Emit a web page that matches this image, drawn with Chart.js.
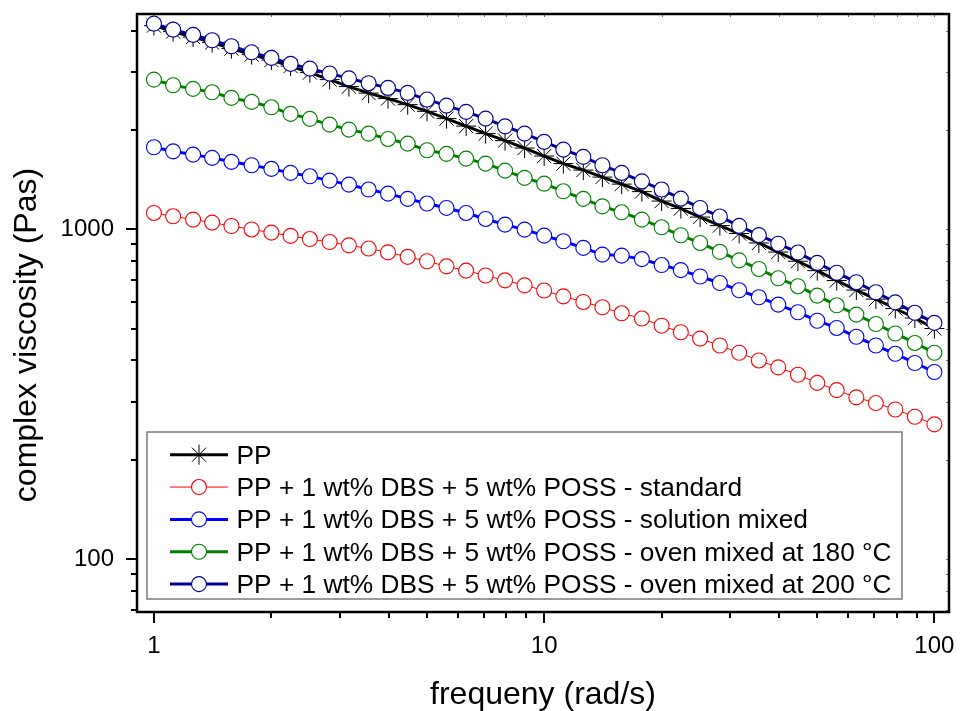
<!DOCTYPE html>
<html>
<head>
<meta charset="utf-8">
<script src="https://cdn.jsdelivr.net/npm/chart.js@4.4.0/dist/chart.umd.min.js"></script>
<style>
html,body{margin:0;padding:0;background:#ffffff;}
#wrap{width:960px;height:711px;position:relative;}
</style>
</head>
<body>
<div id="wrap"><canvas id="c" width="960" height="711"></canvas></div>
<script>
// ---- data ----
const frequency = [1, 1.12, 1.26, 1.41, 1.58, 1.78, 2, 2.24, 2.51, 2.82, 3.16, 3.55, 3.98, 4.47, 5.01, 5.62, 6.31, 7.08, 7.94, 8.91,
  10, 11.2, 12.6, 14.1, 15.8, 17.8, 20, 22.4, 25.1, 28.2, 31.6, 35.5, 39.8, 44.7, 50.1, 56.2, 63.1, 70.8, 79.4, 89.1, 100];

const ppValues = [4150, 3980, 3830, 3686, 3534, 3388, 3261, 3127, 2988, 2846, 2710, 2589, 2492, 2389, 2280, 2167, 2056, 1951, 1858, 1764,
  1668, 1582, 1512, 1440, 1371, 1301, 1218, 1156, 1089, 1026, 971, 909, 853, 800, 749, 699, 654, 614, 575, 538, 500];

const standardValues = [1121, 1095, 1070, 1048, 1023, 999, 977, 955, 934, 915, 894, 874, 851, 825, 800, 772, 749, 724, 700, 676,
  652, 626, 602, 580, 556, 536, 510, 487, 466, 444, 422, 400, 381, 362, 342, 325, 309, 297, 284, 270, 256];

const solutionValues = [1774, 1724, 1685, 1647, 1602, 1564, 1525, 1483, 1448, 1405, 1366, 1320, 1283, 1237, 1197, 1161, 1121, 1075, 1033, 998,
  957, 920, 878, 838, 832, 812, 779, 752, 719, 687, 653, 622, 591, 560, 528, 502, 472, 444, 419, 393, 369];

const oven180Values = [2846, 2735, 2667, 2604, 2504, 2435, 2345, 2239, 2163, 2078, 2007, 1951, 1880, 1820, 1737, 1694, 1638, 1582, 1507, 1432,
  1376, 1304, 1237, 1174, 1126, 1070, 1014, 959, 909, 854, 805, 758, 710, 672, 629, 588, 551, 516, 483, 452, 422];

const oven200Values = [4207, 4036, 3890, 3745, 3592, 3443, 3311, 3176, 3073, 2968, 2870, 2775, 2686, 2593, 2475, 2373, 2271, 2167, 2053, 1951,
  1842, 1745, 1658, 1564, 1483, 1398, 1320, 1239, 1161, 1093, 1024, 960, 904, 850, 791, 738, 691, 644, 600, 558, 520];

const seriesLabels = [
  'PP',
  'PP + 1 wt% DBS + 5 wt% POSS - standard',
  'PP + 1 wt% DBS + 5 wt% POSS - solution mixed',
  'PP + 1 wt% DBS + 5 wt% POSS - oven mixed at 180 °C',
  'PP + 1 wt% DBS + 5 wt% POSS - oven mixed at 200 °C'
];
const xTickValues = [1, 10, 100];
const yTickValues = [100, 1000];
const xAxisTitle = 'frequeny (rad/s)';
const yAxisTitle = 'complex viscosity (Pas)';

// ---- build ----
const FONT = '"Liberation Sans", Arial, Helvetica, sans-serif';
const toPts = vals => frequency.map((f, i) => ({x: f, y: vals[i]}));

function circleSet(label, vals, color, lw, order) {
  return {
    label, data: toPts(vals),
    borderColor: color, borderWidth: lw, backgroundColor: color,
    pointStyle: 'circle', pointRadius: 7.5, pointHoverRadius: 7.5,
    pointBorderWidth: 1.1, pointBorderColor: color, pointBackgroundColor: '#ffffff',
    tension: 0, order
  };
}

const datasets = [
  {
    label: seriesLabels[0], data: toPts(ppValues),
    borderColor: '#000000', borderWidth: 3, backgroundColor: '#000000',
    pointStyle: 'star', pointRadius: 10, pointHoverRadius: 10,
    pointBorderWidth: 1, pointBorderColor: '#000000', pointBackgroundColor: 'rgba(0,0,0,0)',
    tension: 0, order: 5
  },
  circleSet(seriesLabels[1], standardValues, '#ff0000', 1, 4),
  circleSet(seriesLabels[2], solutionValues, '#0000ff', 3, 3),
  circleSet(seriesLabels[3], oven180Values, '#008000', 3, 2),
  circleSet(seriesLabels[4], oven200Values, '#000096', 3, 1)
];

function minorValues(min, max) {
  const out = [];
  for (let e = Math.floor(Math.log10(min)); e <= Math.ceil(Math.log10(max)); e++) {
    for (let m = 1; m < 10; m++) {
      const v = m * Math.pow(10, e);
      if (v >= min && v <= max) out.push({v, major: m === 1});
    }
  }
  return out;
}

function zeroPad(s) { s.paddingTop = 0; s.paddingBottom = 0; s.paddingLeft = 0; s.paddingRight = 0; }

const framePlugin = {
  id: 'frame',
  afterDraw(chart) {
    const ctx = chart.ctx;
    const a = chart.chartArea;
    const xs = chart.scales.x, ys = chart.scales.y;
    ctx.save();
    // ticks
    ctx.strokeStyle = '#000000';
    ctx.lineWidth = 2;
    minorValues(xs.min, xs.max).forEach(t => {
      const px = Math.round(xs.getPixelForValue(t.v));
      const len = t.major ? 11 : 6;
      ctx.beginPath(); ctx.moveTo(px, a.bottom); ctx.lineTo(px, a.bottom + len); ctx.stroke();
    });
    minorValues(ys.min, ys.max).forEach(t => {
      const py = Math.round(ys.getPixelForValue(t.v));
      const len = t.major ? 11 : 6;
      ctx.beginPath(); ctx.moveTo(a.left, py); ctx.lineTo(a.left - len, py); ctx.stroke();
    });
    // faint mirrored ticks top/right
    ctx.strokeStyle = '#707070';
    ctx.lineWidth = 1;
    minorValues(xs.min, xs.max).forEach(t => {
      const px = Math.round(xs.getPixelForValue(t.v)) + 0.5;
      ctx.beginPath(); ctx.moveTo(px, a.top); ctx.lineTo(px, a.top + 3); ctx.stroke();
    });
    minorValues(ys.min, ys.max).forEach(t => {
      const py = Math.round(ys.getPixelForValue(t.v)) + 0.5;
      ctx.beginPath(); ctx.moveTo(a.right, py); ctx.lineTo(a.right - 3, py); ctx.stroke();
    });
    // frame
    ctx.strokeStyle = '#000000';
    ctx.lineWidth = 2.5;
    ctx.strokeRect(a.left, a.top, a.right - a.left, a.bottom - a.top);

    // axis titles
    ctx.fillStyle = '#000000';
    ctx.font = '32px ' + FONT;
    ctx.textAlign = 'center';
    ctx.textBaseline = 'alphabetic';
    ctx.fillText(xAxisTitle, (a.left + a.right) / 2, 704);
    ctx.save();
    ctx.translate(36, 335);
    ctx.rotate(-Math.PI / 2);
    ctx.fillText(yAxisTitle, 0, 0);
    ctx.restore();

    // legend
    const box = {x: 147, y: 432, w: 755, h: 167};
    ctx.fillStyle = '#ffffff';
    ctx.fillRect(box.x, box.y, box.w, box.h);
    ctx.strokeStyle = '#7a7a7a';
    ctx.lineWidth = 1.5;
    ctx.strokeRect(box.x, box.y, box.w, box.h);
    const rowY0 = 454.7, rowStep = 32.35;
    chart.data.datasets.forEach((ds, i) => {
      const cy = rowY0 + i * rowStep;
      ctx.strokeStyle = ds.borderColor;
      ctx.lineWidth = ds.borderWidth;
      ctx.beginPath(); ctx.moveTo(170, cy); ctx.lineTo(228, cy); ctx.stroke();
      ctx.fillStyle = ds.pointBackgroundColor;
      ctx.strokeStyle = ds.pointBorderColor;
      ctx.lineWidth = ds.pointBorderWidth;
      if (ds.pointStyle === 'circle') {
        ctx.beginPath();
        ctx.arc(199, cy, ds.pointRadius, 0, Math.PI * 2);
        ctx.fill(); ctx.stroke();
      } else {
        Chart.helpers.drawPoint(ctx, {pointStyle: 'star', radius: ds.pointRadius, borderWidth: 1, rotation: 0}, 199, cy);
      }
      ctx.fillStyle = '#000000';
      ctx.font = '26.3px ' + FONT;
      ctx.textAlign = 'left';
      ctx.textBaseline = 'alphabetic';
      ctx.fillText(ds.label, 236.5, cy + 8.8);
    });
    ctx.restore();
  }
};

new Chart(document.getElementById('c'), {
  type: 'line',
  data: {datasets},
  options: {
    responsive: false,
    animation: false,
    devicePixelRatio: 1,
    layout: {padding: {top: 14, right: 10, left: 0, bottom: 0}},
    plugins: {legend: {display: false}, tooltip: {enabled: false}},
    scales: {
      x: {
        type: 'logarithmic', min: 0.905, max: 109,
        grid: {display: false, drawTicks: false},
        border: {display: false},
        afterFit(s) { s.height = 99; zeroPad(s); },
        afterBuildTicks(s) { s.ticks = xTickValues.map(v => ({value: v, major: true})); },
        ticks: {
          color: '#000000', font: {family: FONT, size: 24}, padding: 20,
          autoSkip: false, maxRotation: 0,
          callback: v => String(v)
        }
      },
      y: {
        type: 'logarithmic', min: 69, max: 4500,
        grid: {display: false, drawTicks: false},
        border: {display: false},
        afterFit(s) { s.width = 137; zeroPad(s); },
        afterBuildTicks(s) { s.ticks = yTickValues.map(v => ({value: v, major: true})); },
        ticks: {
          color: '#000000', font: {family: FONT, size: 24}, padding: 23,
          autoSkip: false,
          callback: v => String(v)
        }
      }
    }
  },
  plugins: [framePlugin]
});
</script>
</body>
</html>
